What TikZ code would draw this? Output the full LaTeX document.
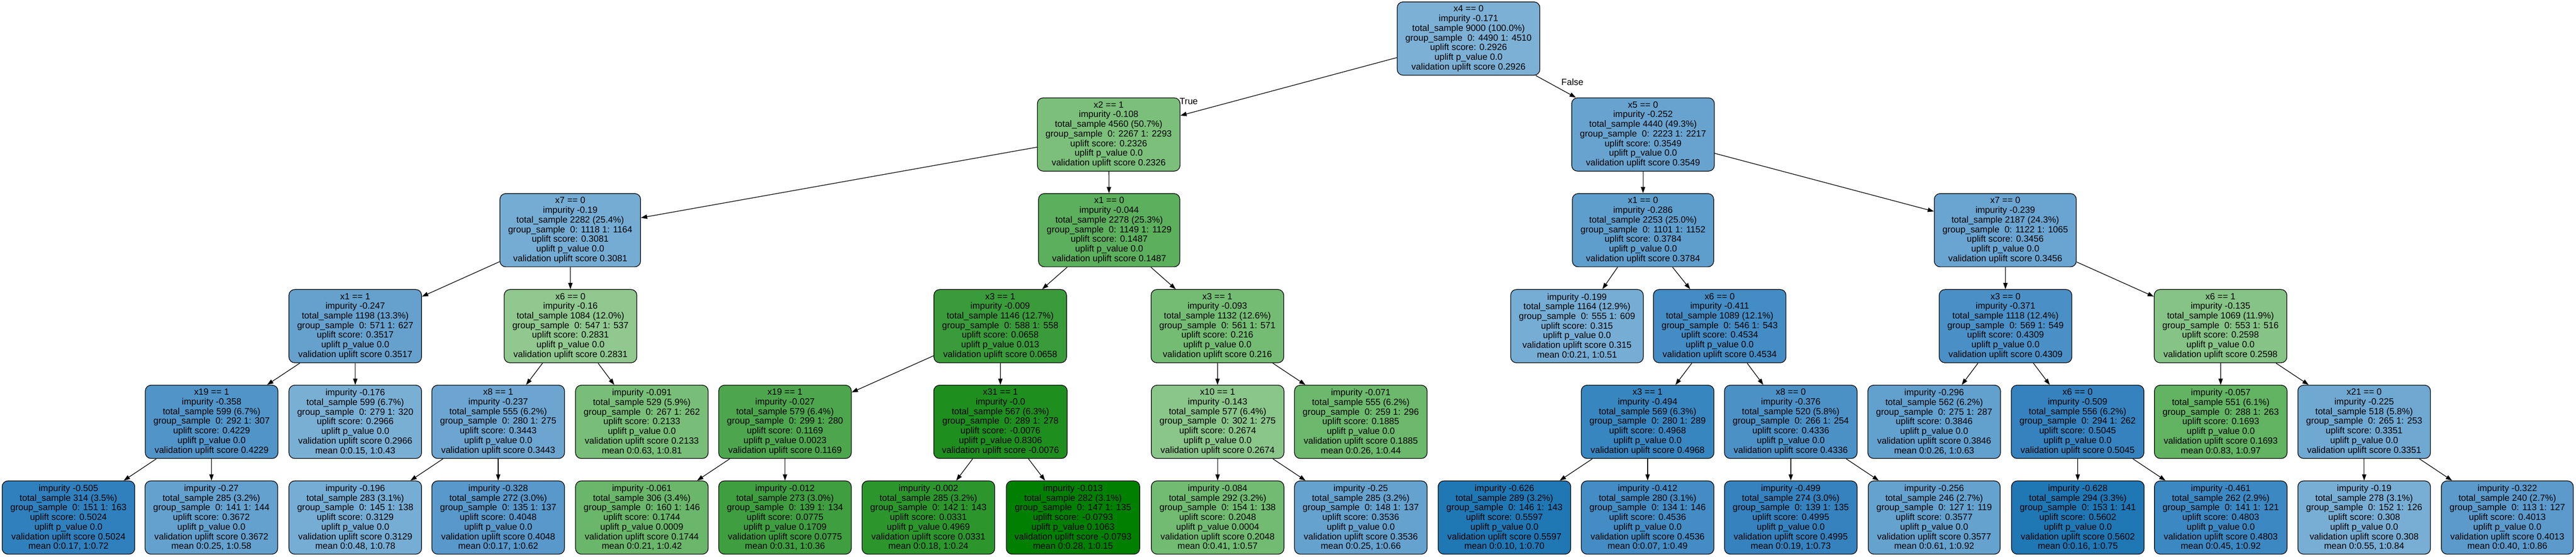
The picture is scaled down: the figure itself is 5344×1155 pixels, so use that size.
\documentclass[tikz,border=0pt]{standalone}
\usepackage{fontspec}
\setmainfont{Liberation Sans}
\usetikzlibrary{arrows.meta}
\definecolor{cRoot}{HTML}{7DB0D5}
\definecolor{cXtwo}{HTML}{7BBF7B}
\definecolor{cXfive}{HTML}{68A3CF}
\definecolor{cXsevL}{HTML}{75ACD3}
\definecolor{cXoneG}{HTML}{5CAF5C}
\definecolor{cXoneB}{HTML}{5E9ECC}
\definecolor{cXsevR}{HTML}{6AA4D0}
\definecolor{cXoneone}{HTML}{66A1CD}
\definecolor{cXsixG}{HTML}{90C890}
\definecolor{cXthrD}{HTML}{3A9B3A}
\definecolor{cXthrL}{HTML}{74BC74}
\definecolor{cLa}{HTML}{76ADD4}
\definecolor{cXsixB}{HTML}{438CC4}
\definecolor{cXthrZ}{HTML}{4A90C6}
\definecolor{cXsixOne}{HTML}{86C386}
\definecolor{cXnineL}{HTML}{5194C8}
\definecolor{cLb}{HTML}{7AAFD4}
\definecolor{cXeightOne}{HTML}{6CA5D0}
\definecolor{cLc}{HTML}{78BE78}
\definecolor{cXnineG}{HTML}{4DA64D}
\definecolor{cXthirty}{HTML}{1E8E1E}
\definecolor{cXten}{HTML}{8AC58A}
\definecolor{cLd}{HTML}{6CB86C}
\definecolor{cXthrB}{HTML}{3886C0}
\definecolor{cXeightZ}{HTML}{4C91C6}
\definecolor{cLe}{HTML}{62A0CE}
\definecolor{cXsixBB}{HTML}{3582BE}
\definecolor{cLf}{HTML}{62B362}
\definecolor{cXtwentyone}{HTML}{6FA8D1}
\definecolor{cM505}{HTML}{3080BD}
\definecolor{cM27}{HTML}{64A1CE}
\definecolor{cM196}{HTML}{76ADD4}
\definecolor{cM328}{HTML}{5898CA}
\definecolor{cM061}{HTML}{6AB66A}
\definecolor{cM012}{HTML}{3F9E3F}
\definecolor{cM002}{HTML}{2C962C}
\definecolor{cM013}{HTML}{007F00}
\definecolor{cM084}{HTML}{72BB72}
\definecolor{cM25}{HTML}{66A2CE}
\definecolor{cM626}{HTML}{1F77B4}
\definecolor{cM412}{HTML}{438CC4}
\definecolor{cM499}{HTML}{3582BE}
\definecolor{cM256}{HTML}{65A2CE}
\definecolor{cM628}{HTML}{1F77B4}
\definecolor{cM461}{HTML}{3C88C2}
\definecolor{cM19}{HTML}{79AED4}
\definecolor{cM322}{HTML}{5B9ACB}
\newcommand{\gs}{group\_sample\ \ }
\newcommand{\ts}{total\_sample }
\newcommand{\upv}{uplift p\_value }
\newcommand{\vus}{validation uplift score }
\begin{document}
\begin{tikzpicture}[x=1pt,y=-1pt,
  tnode/.style={draw=black, line width=1.33pt, rounded corners=12pt, align=center,
    inner xsep=17pt, inner ysep=0pt, minimum height=152pt,
    font=\fontsize{18.67}{20}\selectfont},
  conn/.style={draw=black, line width=1.33pt, -{Triangle[length=13pt,width=9pt]}},
  lab/.style={font=\fontsize{18.67}{20}\selectfont, inner sep=0pt}]
\useasboundingbox (0,0) rectangle (5344,1155);
% level 0
\node[tnode, fill=cRoot] (root) at (3046.5,80) {x4 == 0\\impurity -0.171\\\ts 9000 (100.0\%)\\\gs 0: 4490 1: 4510\\uplift score: 0.2926\\\upv 0.0\\\vus 0.2926};
% level 1
\node[tnode, fill=cXtwo] (xtwo) at (2300,279) {x2 == 1\\impurity -0.108\\\ts 4560 (50.7\%)\\\gs 0: 2267 1: 2293\\uplift score: 0.2326\\\upv 0.0\\\vus 0.2326};
\node[tnode, fill=cXfive] (xfive) at (3408.5,279) {x5 == 0\\impurity -0.252\\\ts 4440 (49.3\%)\\\gs 0: 2223 1: 2217\\uplift score: 0.3549\\\upv 0.0\\\vus 0.3549};
% level 2
\node[tnode, fill=cXsevL] (xsevL) at (1183,477.5) {x7 == 0\\impurity -0.19\\\ts 2282 (25.4\%)\\\gs 0: 1118 1: 1164\\uplift score: 0.3081\\\upv 0.0\\\vus 0.3081};
\node[tnode, fill=cXoneG] (xoneG) at (2301,477.5) {x1 == 0\\impurity -0.044\\\ts 2278 (25.3\%)\\\gs 0: 1149 1: 1129\\uplift score: 0.1487\\\upv 0.0\\\vus 0.1487};
\node[tnode, fill=cXoneB] (xoneB) at (3408.5,477.5) {x1 == 0\\impurity -0.286\\\ts 2253 (25.0\%)\\\gs 0: 1101 1: 1152\\uplift score: 0.3784\\\upv 0.0\\\vus 0.3784};
\node[tnode, fill=cXsevR] (xsevR) at (4160,477.5) {x7 == 0\\impurity -0.239\\\ts 2187 (24.3\%)\\\gs 0: 1122 1: 1065\\uplift score: 0.3456\\\upv 0.0\\\vus 0.3456};
% level 3
\node[tnode, fill=cXoneone] (xoneone) at (737,676.5) {x1 == 1\\impurity -0.247\\\ts 1198 (13.3\%)\\\gs 0: 571 1: 627\\uplift score: 0.3517\\\upv 0.0\\\vus 0.3517};
\node[tnode, fill=cXsixG] (xsixG) at (1183.5,676.5) {x6 == 0\\impurity -0.16\\\ts 1084 (12.0\%)\\\gs 0: 547 1: 537\\uplift score: 0.2831\\\upv 0.0\\\vus 0.2831};
\node[tnode, fill=cXthrD] (xthrD) at (2075,676.5) {x3 == 1\\impurity -0.009\\\ts 1146 (12.7\%)\\\gs 0: 588 1: 558\\uplift score: 0.0658\\\upv 0.013\\\vus 0.0658};
\node[tnode, fill=cXthrL] (xthrL) at (2525.5,676.5) {x3 == 1\\impurity -0.093\\\ts 1132 (12.6\%)\\\gs 0: 561 1: 571\\uplift score: 0.216\\\upv 0.0\\\vus 0.216};
\node[tnode, fill=cLa] (la) at (3271.5,676.5) {impurity -0.199\\\ts 1164 (12.9\%)\\\gs 0: 555 1: 609\\uplift score: 0.315\\\upv 0.0\\\vus 0.315\\mean 0:0.21, 1:0.51};
\node[tnode, fill=cXsixB] (xsixB) at (3567.5,676.5) {x6 == 0\\impurity -0.411\\\ts 1089 (12.1\%)\\\gs 0: 546 1: 543\\uplift score: 0.4534\\\upv 0.0\\\vus 0.4534};
\node[tnode, fill=cXthrZ] (xthrZ) at (4160.5,676.5) {x3 == 0\\impurity -0.371\\\ts 1118 (12.4\%)\\\gs 0: 569 1: 549\\uplift score: 0.4309\\\upv 0.0\\\vus 0.4309};
\node[tnode, fill=cXsixOne] (xsixOne) at (4606.5,676.5) {x6 == 1\\impurity -0.135\\\ts 1069 (11.9\%)\\\gs 0: 553 1: 516\\uplift score: 0.2598\\\upv 0.0\\\vus 0.2598};
% level 4
\node[tnode, fill=cXnineL] (xnineL) at (439,875) {x19 == 1\\impurity -0.358\\\ts 599 (6.7\%)\\\gs 0: 292 1: 307\\uplift score: 0.4229\\\upv 0.0\\\vus 0.4229};
\node[tnode, fill=cLb] (lb) at (737,875) {impurity -0.176\\\ts 599 (6.7\%)\\\gs 0: 279 1: 320\\uplift score: 0.2966\\\upv 0.0\\\vus 0.2966\\mean 0:0.15, 1:0.43};
\node[tnode, fill=cXeightOne] (xeightOne) at (1033.5,875) {x8 == 1\\impurity -0.237\\\ts 555 (6.2\%)\\\gs 0: 280 1: 275\\uplift score: 0.3443\\\upv 0.0\\\vus 0.3443};
\node[tnode, fill=cLc] (lc) at (1331.5,875) {impurity -0.091\\\ts 529 (5.9\%)\\\gs 0: 267 1: 262\\uplift score: 0.2133\\\upv 0.0\\\vus 0.2133\\mean 0:0.63, 1:0.81};
\node[tnode, fill=cXnineG] (xnineG) at (1628.5,875) {x19 == 1\\impurity -0.027\\\ts 579 (6.4\%)\\\gs 0: 299 1: 280\\uplift score: 0.1169\\\upv 0.0023\\\vus 0.1169};
\node[tnode, fill=cXthirty] (xthirty) at (2075.5,875) {x31 == 1\\impurity -0.0\\\ts 567 (6.3\%)\\\gs 0: 289 1: 278\\uplift score: -0.0076\\\upv 0.8306\\\vus -0.0076};
\node[tnode, fill=cXten] (xten) at (2526,875) {x10 == 1\\impurity -0.143\\\ts 577 (6.4\%)\\\gs 0: 302 1: 275\\uplift score: 0.2674\\\upv 0.0\\\vus 0.2674};
\node[tnode, fill=cLd] (ld) at (2823,875) {impurity -0.071\\\ts 555 (6.2\%)\\\gs 0: 259 1: 296\\uplift score: 0.1885\\\upv 0.0\\\vus 0.1885\\mean 0:0.26, 1:0.44};
\node[tnode, fill=cXthrB] (xthrB) at (3418,875) {x3 == 1\\impurity -0.494\\\ts 569 (6.3\%)\\\gs 0: 280 1: 289\\uplift score: 0.4968\\\upv 0.0\\\vus 0.4968};
\node[tnode, fill=cXeightZ] (xeightZ) at (3715,875) {x8 == 0\\impurity -0.376\\\ts 520 (5.8\%)\\\gs 0: 266 1: 254\\uplift score: 0.4336\\\upv 0.0\\\vus 0.4336};
\node[tnode, fill=cLe] (le) at (4012.5,875) {impurity -0.296\\\ts 562 (6.2\%)\\\gs 0: 275 1: 287\\uplift score: 0.3846\\\upv 0.0\\\vus 0.3846\\mean 0:0.26, 1:0.63};
\node[tnode, fill=cXsixBB] (xsixBB) at (4310,875) {x6 == 0\\impurity -0.509\\\ts 556 (6.2\%)\\\gs 0: 294 1: 262\\uplift score: 0.5045\\\upv 0.0\\\vus 0.5045};
\node[tnode, fill=cLf] (lf) at (4607,875) {impurity -0.057\\\ts 551 (6.1\%)\\\gs 0: 288 1: 263\\uplift score: 0.1693\\\upv 0.0\\\vus 0.1693\\mean 0:0.83, 1:0.97};
\node[tnode, fill=cXtwentyone] (xtwentyone) at (4904.5,875) {x21 == 0\\impurity -0.225\\\ts 518 (5.8\%)\\\gs 0: 265 1: 253\\uplift score: 0.3351\\\upv 0.0\\\vus 0.3351};
% level 5
\node[tnode, fill=cM505] (m505) at (142,1073.5) {impurity -0.505\\\ts 314 (3.5\%)\\\gs 0: 151 1: 163\\uplift score: 0.5024\\\upv 0.0\\\vus 0.5024\\mean 0:0.17, 1:0.72};
\node[tnode, fill=cM27] (m27) at (438.5,1073.5) {impurity -0.27\\\ts 285 (3.2\%)\\\gs 0: 141 1: 144\\uplift score: 0.3672\\\upv 0.0\\\vus 0.3672\\mean 0:0.25, 1:0.58};
\node[tnode, fill=cM196] (m196) at (737,1073.5) {impurity -0.196\\\ts 283 (3.1\%)\\\gs 0: 145 1: 138\\uplift score: 0.3129\\\upv 0.0\\\vus 0.3129\\mean 0:0.48, 1:0.78};
\node[tnode, fill=cM328] (m328) at (1033.5,1073.5) {impurity -0.328\\\ts 272 (3.0\%)\\\gs 0: 135 1: 137\\uplift score: 0.4048\\\upv 0.0\\\vus 0.4048\\mean 0:0.17, 1:0.62};
\node[tnode, fill=cM061] (m061) at (1331.5,1073.5) {impurity -0.061\\\ts 306 (3.4\%)\\\gs 0: 160 1: 146\\uplift score: 0.1744\\\upv 0.0009\\\vus 0.1744\\mean 0:0.21, 1:0.42};
\node[tnode, fill=cM012] (m012) at (1628.5,1073.5) {impurity -0.012\\\ts 273 (3.0\%)\\\gs 0: 139 1: 134\\uplift score: 0.0775\\\upv 0.1709\\\vus 0.0775\\mean 0:0.31, 1:0.36};
\node[tnode, fill=cM002] (m002) at (1926,1073.5) {impurity -0.002\\\ts 285 (3.2\%)\\\gs 0: 142 1: 143\\uplift score: 0.0331\\\upv 0.4969\\\vus 0.0331\\mean 0:0.18, 1:0.24};
\node[tnode, fill=cM013] (m013) at (2226,1073.5) {impurity -0.013\\\ts 282 (3.1\%)\\\gs 0: 147 1: 135\\uplift score: -0.0793\\\upv 0.1063\\\vus -0.0793\\mean 0:0.28, 1:0.15};
\node[tnode, fill=cM084] (m084) at (2526,1073.5) {impurity -0.084\\\ts 292 (3.2\%)\\\gs 0: 154 1: 138\\uplift score: 0.2048\\\upv 0.0004\\\vus 0.2048\\mean 0:0.41, 1:0.57};
\node[tnode, fill=cM25] (m25) at (2823,1073.5) {impurity -0.25\\\ts 285 (3.2\%)\\\gs 0: 148 1: 137\\uplift score: 0.3536\\\upv 0.0\\\vus 0.3536\\mean 0:0.25, 1:0.66};
\node[tnode, fill=cM626] (m626) at (3121,1073.5) {impurity -0.626\\\ts 289 (3.2\%)\\\gs 0: 146 1: 143\\uplift score: 0.5597\\\upv 0.0\\\vus 0.5597\\mean 0:0.10, 1:0.70};
\node[tnode, fill=cM412] (m412) at (3418,1073.5) {impurity -0.412\\\ts 280 (3.1\%)\\\gs 0: 134 1: 146\\uplift score: 0.4536\\\upv 0.0\\\vus 0.4536\\mean 0:0.07, 1:0.49};
\node[tnode, fill=cM499] (m499) at (3715,1073.5) {impurity -0.499\\\ts 274 (3.0\%)\\\gs 0: 139 1: 135\\uplift score: 0.4995\\\upv 0.0\\\vus 0.4995\\mean 0:0.19, 1:0.73};
\node[tnode, fill=cM256] (m256) at (4012.5,1073.5) {impurity -0.256\\\ts 246 (2.7\%)\\\gs 0: 127 1: 119\\uplift score: 0.3577\\\upv 0.0\\\vus 0.3577\\mean 0:0.61, 1:0.92};
\node[tnode, fill=cM628] (m628) at (4310.5,1073.5) {impurity -0.628\\\ts 294 (3.3\%)\\\gs 0: 153 1: 141\\uplift score: 0.5602\\\upv 0.0\\\vus 0.5602\\mean 0:0.16, 1:0.75};
\node[tnode, fill=cM461] (m461) at (4607,1073.5) {impurity -0.461\\\ts 262 (2.9\%)\\\gs 0: 141 1: 121\\uplift score: 0.4803\\\upv 0.0\\\vus 0.4803\\mean 0:0.45, 1:0.92};
\node[tnode, fill=cM19] (m19) at (4904.5,1073.5) {impurity -0.19\\\ts 278 (3.1\%)\\\gs 0: 152 1: 126\\uplift score: 0.308\\\upv 0.0\\\vus 0.308\\mean 0:0.55, 1:0.84};
\node[tnode, fill=cM322] (m322) at (5201.5,1073.5) {impurity -0.322\\\ts 240 (2.7\%)\\\gs 0: 113 1: 127\\uplift score: 0.4013\\\upv 0.0\\\vus 0.4013\\mean 0:0.40, 1:0.86};
% edge labels
\node[lab] (tTrue) at (2466,210) {True};
\node[lab] (tFalse) at (3262,170) {False};
% connectors
\draw[conn] (root) -- (xtwo);
\draw[conn] (root) -- (xfive);
\draw[conn] (xtwo) -- (xsevL);
\draw[conn] (xtwo) -- (xoneG);
\draw[conn] (xfive) -- (xoneB);
\draw[conn] (xfive) -- (xsevR);
\draw[conn] (xsevL) -- (xoneone);
\draw[conn] (xsevL) -- (xsixG);
\draw[conn] (xoneG) -- (xthrD);
\draw[conn] (xoneG) -- (xthrL);
\draw[conn] (xoneB) -- (la);
\draw[conn] (xoneB) -- (xsixB);
\draw[conn] (xsevR) -- (xthrZ);
\draw[conn] (xsevR) -- (xsixOne);
\draw[conn] (xoneone) -- (xnineL);
\draw[conn] (xoneone) -- (lb);
\draw[conn] (xsixG) -- (xeightOne);
\draw[conn] (xsixG) -- (lc);
\draw[conn] (xthrD) -- (xnineG);
\draw[conn] (xthrD) -- (xthirty);
\draw[conn] (xthrL) -- (xten);
\draw[conn] (xthrL) -- (ld);
\draw[conn] (xsixB) -- (xthrB);
\draw[conn] (xsixB) -- (xeightZ);
\draw[conn] (xthrZ) -- (le);
\draw[conn] (xthrZ) -- (xsixBB);
\draw[conn] (xsixOne) -- (lf);
\draw[conn] (xsixOne) -- (xtwentyone);
\draw[conn] (xnineL) -- (m505);
\draw[conn] (xnineL) -- (m27);
\draw[conn] (xeightOne) -- (m196);
\draw[conn] (xeightOne) -- (m328);
\draw[conn] (xnineG) -- (m061);
\draw[conn] (xnineG) -- (m012);
\draw[conn] (xthirty) -- (m002);
\draw[conn] (xthirty) -- (m013);
\draw[conn] (xten) -- (m084);
\draw[conn] (xten) -- (m25);
\draw[conn] (xthrB) -- (m626);
\draw[conn] (xthrB) -- (m412);
\draw[conn] (xeightZ) -- (m499);
\draw[conn] (xeightZ) -- (m256);
\draw[conn] (xsixBB) -- (m628);
\draw[conn] (xsixBB) -- (m461);
\draw[conn] (xtwentyone) -- (m19);
\draw[conn] (xtwentyone) -- (m322);
\end{tikzpicture}
\end{document}
